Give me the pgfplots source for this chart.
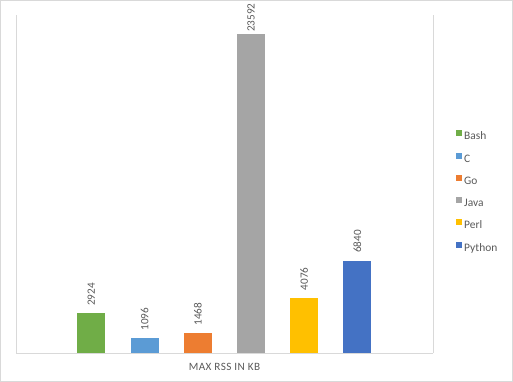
\documentclass[border=0pt]{standalone}
\usepackage{pgfplots}
\pgfplotsset{compat=1.18}
\usepackage{fontspec}
\setmainfont{Carlito}
\definecolor{bashc}{HTML}{70AD47}
\definecolor{cc}{HTML}{5B9BD5}
\definecolor{goc}{HTML}{ED7D31}
\definecolor{javac}{HTML}{A5A5A5}
\definecolor{perlc}{HTML}{FFC000}
\definecolor{pyc}{HTML}{4472C4}
\definecolor{txt}{HTML}{595959}
\definecolor{rulec}{HTML}{D9D9D9}
\begin{document}
\begin{tikzpicture}
\useasboundingbox (0,0) rectangle (513bp,382bp);
\draw[rulec, line width=1bp] (0.5bp,0.5bp) rectangle (512.5bp,381.5bp);
\begin{axis}[
  at={(16bp,29bp)}, anchor=south west,
  scale only axis, width=417bp, height=338bp,
  xmin=-1.415, xmax=6.42, ymin=0, ymax=25000,
  xtick=\empty, ytick=\empty,
  axis line style={draw=none},
  clip=false,
  ybar, bar width=28bp,
  legend image code/.code={\fill[#1] (0bp,0.5bp) rectangle (6bp,6.5bp);},
  /pgf/number format/1000 sep={},
  /pgf/number format/assume math mode=true,
  nodes near coords,
  every node near coord/.append style={rotate=90, anchor=west,
    font=\fontsize{11.2}{13}\selectfont, text=txt, inner ysep=0pt, inner xsep=7.6bp},
  xlabel={\addfontfeature{LetterSpace=4}MAX RSS IN KB},
  every axis x label/.style={at={(axis description cs:0.5,0)}, anchor=center,
    yshift=-13.7bp, font=\fontsize{11.2}{13}\selectfont, text=txt},
  legend style={at={(axis description cs:1.048,0.665)}, anchor=north west,
    draw=none, fill=none, font=\fontsize{11.5}{13}\selectfont, text=txt,
    row sep=10.75bp, column sep=2bp,
    nodes={inner sep=0pt, text height=8bp, text depth=2bp}},
  legend cell align=left,
]
\draw[rulec, line width=1bp] (rel axis cs:0,0) -- (rel axis cs:0,1);
\draw[rulec, line width=1bp] (rel axis cs:1,0) -- (rel axis cs:1,1);
\draw[rulec, line width=1bp] (rel axis cs:0,0) -- (rel axis cs:1,0);

\addplot[fill=bashc, draw=none, bar shift=0pt] coordinates {(0,2924)};
\addlegendentry{Bash}
\addplot[fill=cc, draw=none, bar shift=0pt] coordinates {(1,1096)};
\addlegendentry{C}
\addplot[fill=goc, draw=none, bar shift=0pt] coordinates {(2,1468)};
\addlegendentry{Go}
\addplot[fill=javac, draw=none, bar shift=0pt,
  every node near coord/.append style={inner xsep=2bp}] coordinates {(3,23592)};
\addlegendentry{Java}
\addplot[fill=perlc, draw=none, bar shift=0pt] coordinates {(4,4076)};
\addlegendentry{Perl}
\addplot[fill=pyc, draw=none, bar shift=0pt] coordinates {(5,6840)};
\addlegendentry{Python}
\end{axis}
\end{tikzpicture}
\end{document}
